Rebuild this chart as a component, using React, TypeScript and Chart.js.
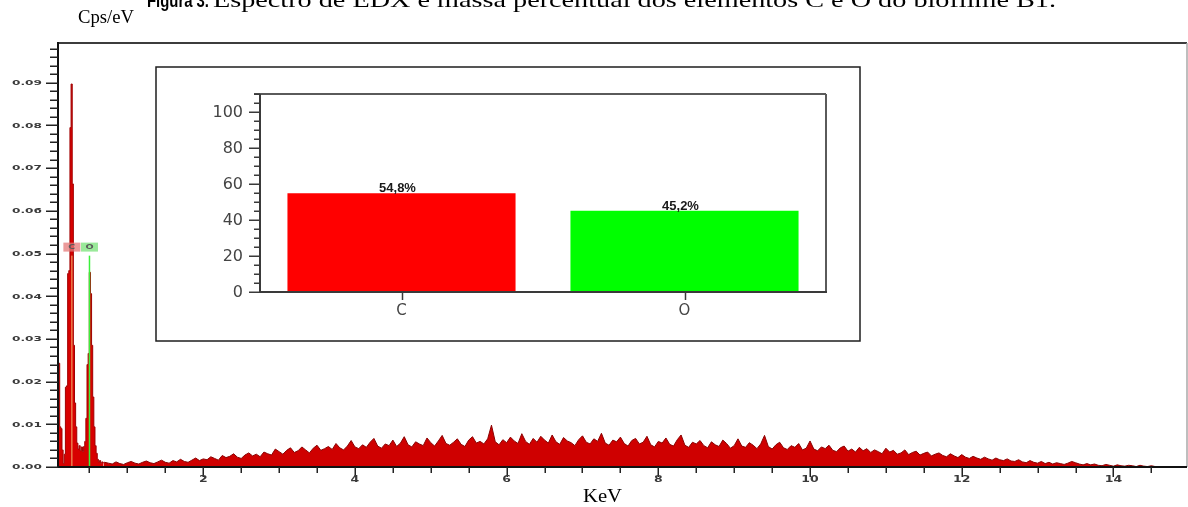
import { useEffect, useRef } from 'react';
import { Chart, registerables } from 'chart.js';

Chart.register(...registerables);

// ---- EDX spectrum (Cps/eV against KeV) ----
// low-energy channels with the C and O peaks
const peakKeV = [
  0.085, 0.1, 0.115, 0.13, 0.145, 0.16, 0.175, 0.19, 0.205, 0.22, 0.235, 0.25, 0.265, 0.28,
  0.295, 0.31, 0.325, 0.34, 0.355, 0.37, 0.385, 0.4, 0.415, 0.43, 0.445, 0.46, 0.475, 0.49,
  0.505, 0.52, 0.535, 0.55, 0.565, 0.58, 0.595, 0.61, 0.625, 0.64, 0.655, 0.67, 0.685,
];
const peakCps = [
  0.0243, 0.0243, 0.0094, 0.009, 0.004, 0.0008, 0.003, 0.0187, 0.019, 0.0453, 0.046, 0.0795, 0.0897, 0.0663,
  0.0285, 0.015, 0.0094, 0.0056, 0.0042, 0.005, 0.0038, 0.0047, 0.0036, 0.0048, 0.006, 0.0114, 0.024, 0.0266,
  0.0456, 0.0406, 0.0285, 0.0164, 0.0094, 0.005, 0.0032, 0.0018, 0.0012, 0.0015, 0.0009, 0.0012, 0.001,
];

// bremsstrahlung background, channels every 0.05 KeV from 0.70 KeV
const bgStartKeV = 0.7;
const bgStepKeV = 0.05;
const bgCps = [
  // 0.70 - 1.65
  0.0011, 0.0009, 0.0007, 0.0012, 0.0008, 0.0006, 0.001, 0.0013, 0.0009, 0.0007, 0.0011, 0.0014, 0.001, 0.0008, 0.0012, 0.0016, 0.0011, 0.0009, 0.0015, 0.0012,
  // 1.70 - 2.65
  0.0018, 0.0013, 0.0011, 0.0016, 0.0021, 0.0015, 0.0019, 0.0017, 0.0024, 0.002, 0.0016, 0.0027, 0.0022, 0.0025, 0.0031, 0.0023, 0.002, 0.0028, 0.0033, 0.0026,
  // 2.70 - 3.65
  0.003, 0.0024, 0.0035, 0.0031, 0.0028, 0.0042, 0.0036, 0.003, 0.0039, 0.0045, 0.0034, 0.0038, 0.0047, 0.004, 0.0033, 0.0044, 0.0051, 0.0039, 0.0043, 0.0048,
  // 3.70 - 4.65
  0.0041, 0.0055, 0.0045, 0.004, 0.0049, 0.0062, 0.0047, 0.0043, 0.0052, 0.0046, 0.0058, 0.0067, 0.0049, 0.0044, 0.0054, 0.005, 0.0063, 0.0048, 0.0056, 0.0071,
  // 4.70 - 5.65
  0.0052, 0.0047, 0.0059, 0.0054, 0.005, 0.0068, 0.0057, 0.0049, 0.0061, 0.0074, 0.0055, 0.0051, 0.0058, 0.0066, 0.0053, 0.0048, 0.0063, 0.0071, 0.0056, 0.006,
  // 5.70 - 6.65
  0.0054, 0.0066, 0.0098, 0.0059, 0.0052, 0.0064, 0.0057, 0.007, 0.0061, 0.0055, 0.0078, 0.006, 0.0053, 0.0067, 0.0058, 0.0072, 0.0063, 0.0056, 0.0075, 0.0059,
  // 6.70 - 7.65
  0.0053, 0.0069, 0.0061, 0.0057, 0.005, 0.0064, 0.0073, 0.0058, 0.0054, 0.0066, 0.006, 0.0079, 0.0056, 0.0051, 0.0063, 0.0059, 0.007, 0.0055, 0.0049, 0.0062,
  // 7.70 - 8.65
  0.0067, 0.0054, 0.0058, 0.0072, 0.0052, 0.0047, 0.006, 0.0056, 0.0068, 0.0053, 0.0049, 0.0064, 0.0075, 0.0051, 0.0046, 0.0058, 0.0054, 0.0062, 0.005, 0.0045,
  // 8.70 - 9.65
  0.0059, 0.0052, 0.0048, 0.0063, 0.0055, 0.0044, 0.005, 0.0066, 0.0049, 0.0046, 0.0057, 0.0051, 0.0043, 0.0054, 0.0074, 0.0048, 0.0042, 0.0052, 0.0058, 0.0045,
  // 9.70 - 10.65
  0.0041, 0.005, 0.0046, 0.0055, 0.004, 0.0044, 0.0061, 0.0042, 0.0038, 0.0047, 0.0043, 0.0051, 0.0039, 0.0036, 0.0045, 0.0049, 0.0037, 0.0042, 0.0035, 0.0046,
  // 10.70 - 11.65
  0.0038, 0.0043, 0.0034, 0.004, 0.0036, 0.0031, 0.0044, 0.0035, 0.0039, 0.003, 0.0033, 0.004, 0.0029, 0.0034, 0.0037, 0.0028, 0.0032, 0.0035, 0.0026, 0.003,
  // 11.70 - 12.65
  0.0033, 0.0027, 0.0024, 0.0031, 0.0026, 0.0022, 0.0029, 0.0023, 0.002, 0.0025, 0.0021, 0.0018, 0.0023, 0.0019, 0.0016, 0.0021, 0.0017, 0.0015, 0.0019, 0.0014,
  // 12.70 - 13.65
  0.0013, 0.0017, 0.0012, 0.001, 0.0015, 0.0011, 0.0009, 0.0013, 0.0008, 0.0011, 0.0007, 0.001, 0.0008, 0.0006, 0.0009, 0.0013, 0.001, 0.0007, 0.0005, 0.0008,
  // 13.70 - 14.60
  0.0005, 0.0007, 0.0004, 0.0003, 0.0006, 0.0004, 0.0002, 0.0005, 0.0003, 0.0002, 0.0004, 0.0003, 0.0001, 0.0004, 0.0002, 0.0001, 0.0003, 0.0001, 0.0,
];

// element markers drawn on the spectrum
const markerNames = ['C', 'O'];
const markerKeV = [0.268, 0.5];
const markerLineTop = 0.0495;
const markerBoxLevel = 0.0515;

// axis ticks of the spectrum
const xTickLabels = ['2', '4', '6', '8', '10', '12', '14'];
const yTickLabels = ['0.00', '0.01', '0.02', '0.03', '0.04', '0.05', '0.06', '0.07', '0.08', '0.09'];
const xMinorStep = 0.5;
const yMinorStep = 0.002;
const xRange = [0.085, 14.97];
const yRange = [0, 0.0993];

// ---- inset: mass percentage of each element ----
const elements = ['C', 'O'];
const massPct = [54.8, 45.2];
const barColors = ['#ff0000', '#00ff00'];
const insetYTickLabels = ['0', '20', '40', '60', '80', '100'];
const insetYMinorStep = 5;
const insetYMax = 110;

const titleBold = 'Figura 3.';
const titleText = 'Espectro de EDX e massa percentual dos elementos C e O do biofilme B1.';
const yAxisTitle = 'Cps/eV';
const xAxisTitle = 'KeV';

const peakSeries = peakKeV.map((x, i) => ({ x, y: peakCps[i] }));
// the background trace starts from the last peak channel so the two fills join
const bgSeries = [
  peakSeries[peakSeries.length - 1],
  ...bgCps.map((y, i) => ({ x: +(bgStartKeV + i * bgStepKeV).toFixed(2), y })),
];

function seg(ctx: CanvasRenderingContext2D, x1: number, y1: number, x2: number, y2: number) {
  ctx.beginPath();
  ctx.moveTo(x1, y1);
  ctx.lineTo(x2, y2);
  ctx.stroke();
}

// text squeezed/stretched horizontally into [x0, x1]
function fitText(ctx: CanvasRenderingContext2D, text: string, x0: number, x1: number, baseline: number) {
  const w = ctx.measureText(text).width;
  ctx.save();
  ctx.translate(x0, baseline);
  ctx.scale((x1 - x0) / w, 1);
  ctx.textAlign = 'left';
  ctx.fillText(text, 0, 0);
  ctx.restore();
}

// text with a fixed horizontal / vertical stretch
function stretchText(ctx: CanvasRenderingContext2D, text: string, x: number, y: number, sx: number, sy: number) {
  ctx.save();
  ctx.translate(x, y);
  ctx.scale(sx, sy);
  ctx.fillText(text, 0, 0);
  ctx.restore();
}

const spectrumDecor = {
  id: 'spectrumDecor',
  afterDatasetsDraw(chart: any) {
    const ctx: CanvasRenderingContext2D = chart.ctx;
    const a = chart.chartArea;
    const xs = chart.scales.x;
    const ys = chart.scales.y;
    ctx.save();
    ctx.lineCap = 'butt';

    // element marker boxes
    markerNames.forEach((name, i) => {
      const cx = xs.getPixelForValue(markerKeV[i]);
      const cy = ys.getPixelForValue(markerBoxLevel);
      ctx.fillStyle = i === 0 ? 'rgba(228,120,120,0.75)' : 'rgba(120,225,120,0.75)';
      ctx.fillRect(cx - 8.5, cy - 4.5, 17, 9);
      ctx.fillStyle = '#5a5a5a';
      ctx.font = 'bold 8px "DejaVu Sans"';
      ctx.textAlign = 'center';
      ctx.textBaseline = 'middle';
      stretchText(ctx, name, cx, cy + 0.5, 1.2, 0.8);
    });

    // frame
    ctx.strokeStyle = '#3c3c3c';
    ctx.lineWidth = 2;
    seg(ctx, a.left, a.top, a.right, a.top);
    ctx.strokeStyle = '#a8a8a8';
    ctx.lineWidth = 1.5;
    seg(ctx, a.right, a.top, a.right, a.bottom);
    ctx.strokeStyle = '#111';
    ctx.lineWidth = 2;
    seg(ctx, a.left, a.top - 1, a.left, a.bottom + 1);
    seg(ctx, a.left - 1, a.bottom, a.right, a.bottom);

    // y ticks
    ctx.lineWidth = 1.5;
    ctx.strokeStyle = '#222';
    for (let i = 0; i * yMinorStep <= ys.max + 1e-9; i++) {
      const py = Math.round(ys.getPixelForValue(i * yMinorStep)) + 0.25;
      const len = i % 5 === 0 ? 12 : 8;
      seg(ctx, a.left - len, py, a.left, py);
    }
    // x ticks
    const majorX = xTickLabels.map(parseFloat);
    for (let i = 1; i * xMinorStep <= xs.max; i++) {
      const v = i * xMinorStep;
      const px = Math.round(xs.getPixelForValue(v)) + 0.25;
      const len = majorX.includes(v) ? 10 : 6;
      seg(ctx, px, a.bottom, px, a.bottom + len);
    }

    // tick labels
    ctx.fillStyle = '#3a3a3a';
    ctx.font = 'bold 9px "DejaVu Sans"';
    ctx.textAlign = 'right';
    ctx.textBaseline = 'middle';
    yTickLabels.forEach((lbl) => {
      stretchText(ctx, lbl, a.left - 16, ys.getPixelForValue(parseFloat(lbl)) + 0.5, 1.35, 0.8);
    });
    ctx.textAlign = 'center';
    ctx.font = 'bold 10px "DejaVu Sans"';
    xTickLabels.forEach((lbl) => {
      stretchText(ctx, lbl, xs.getPixelForValue(parseFloat(lbl)), a.bottom + 13, 1.25, 0.8);
    });

    // axis titles and caption
    ctx.fillStyle = '#000';
    ctx.textBaseline = 'alphabetic';
    ctx.font = '19px "Liberation Serif"';
    fitText(ctx, yAxisTitle, 78, 134, 23);
    fitText(ctx, xAxisTitle, 583, 622, 502);
    ctx.font = 'bold 19px "Liberation Sans"';
    fitText(ctx, titleBold, 147, 209, 7);
    ctx.font = '21px "Liberation Serif"';
    fitText(ctx, titleText, 213, 1056, 7);
    ctx.restore();
  },
};

const insetDecor = {
  id: 'insetDecor',
  afterDatasetsDraw(chart: any) {
    const ctx: CanvasRenderingContext2D = chart.ctx;
    const a = chart.chartArea;
    const xs = chart.scales.x;
    const ys = chart.scales.y;
    const W = chart.width;
    const H = chart.height;
    ctx.save();

    // outer frame of the inset
    ctx.strokeStyle = '#1e1e1e';
    ctx.lineWidth = 1.5;
    ctx.strokeRect(1, 1, W - 2, H - 2);

    // plot box
    ctx.strokeStyle = '#5a5a5a';
    ctx.lineWidth = 2;
    seg(ctx, a.left - 6, a.top, a.right, a.top);
    seg(ctx, a.right, a.top, a.right, a.bottom);
    ctx.strokeStyle = '#3a3a3a';
    seg(ctx, a.left, a.top, a.left, a.bottom + 1);
    seg(ctx, a.left - 1, a.bottom, a.right + 1, a.bottom);

    // y ticks
    ctx.lineWidth = 1.5;
    for (let i = 0; i * insetYMinorStep <= ys.max; i++) {
      const v = i * insetYMinorStep;
      const py = Math.round(ys.getPixelForValue(v)) + 0.25;
      const len = v % 20 === 0 ? 11 : 6;
      seg(ctx, a.left - len, py, a.left, py);
    }
    // category ticks
    elements.forEach((_, i) => {
      const px = Math.round(xs.getPixelForValue(i)) + 0.5;
      seg(ctx, px, a.bottom, px, a.bottom + 8);
    });

    // tick labels
    ctx.fillStyle = '#444';
    ctx.font = '16px "DejaVu Sans"';
    ctx.textAlign = 'right';
    ctx.textBaseline = 'middle';
    insetYTickLabels.forEach((lbl) => {
      ctx.fillText(lbl, a.left - 17, ys.getPixelForValue(parseFloat(lbl)) + 1);
    });
    ctx.textAlign = 'center';
    ctx.font = '15px "DejaVu Sans"';
    elements.forEach((lbl, i) => {
      ctx.fillText(lbl, xs.getPixelForValue(i), a.bottom + 19);
    });

    // value labels over the bars
    ctx.fillStyle = '#1a1a1a';
    ctx.font = 'bold 13px "Liberation Sans"';
    ctx.textBaseline = 'alphabetic';
    massPct.forEach((v, i) => {
      const lbl = v.toFixed(1).replace('.', ',') + '%';
      ctx.fillText(lbl, xs.getPixelForValue(i) - 4, ys.getPixelForValue(v) - 1);
    });
    ctx.restore();
  },
};

export default function App() {
  const mainRef = useRef<HTMLCanvasElement>(null);
  const insetRef = useRef<HTMLCanvasElement>(null);

  useEffect(() => {
    const main = new Chart(mainRef.current!, {
      type: 'line',
      data: {
        datasets: [
          {
            data: peakSeries,
            fill: 'origin',
            stepped: 'middle',
            borderColor: '#a00000',
            backgroundColor: '#d80000',
            borderWidth: 1,
            pointRadius: 0,
            order: 2,
          },
          {
            data: bgSeries,
            fill: 'origin',
            borderColor: '#8a0000',
            backgroundColor: '#cf0000',
            borderWidth: 1,
            pointRadius: 0,
            tension: 0,
            order: 3,
          },
          {
            data: [
              { x: markerKeV[0], y: 0 },
              { x: markerKeV[0], y: markerLineTop },
            ],
            borderColor: '#f3b870',
            borderWidth: 1,
            pointRadius: 0,
            fill: false,
            order: 1,
          },
          {
            data: [
              { x: markerKeV[1], y: 0 },
              { x: markerKeV[1], y: markerLineTop },
            ],
            borderColor: '#3cf03c',
            borderWidth: 1.5,
            pointRadius: 0,
            fill: false,
            order: 1,
          },
        ],
      },
      options: {
        responsive: false,
        animation: false,
        events: [],
        layout: { padding: { top: 43, right: 1, left: 0, bottom: 0 } },
        plugins: { legend: { display: false }, tooltip: { enabled: false } },
        scales: {
          x: {
            type: 'linear',
            min: xRange[0],
            max: xRange[1],
            ticks: { display: false },
            grid: { display: false },
            border: { display: false },
            afterFit: (s: any) => {
              s.height = 40;
            },
          },
          y: {
            type: 'linear',
            min: yRange[0],
            max: yRange[1],
            ticks: { display: false },
            grid: { display: false },
            border: { display: false },
            afterFit: (s: any) => {
              s.width = 58;
            },
          },
        },
      },
      plugins: [spectrumDecor],
    } as any);

    const inset = new Chart(insetRef.current!, {
      type: 'bar',
      data: {
        labels: elements,
        datasets: [
          {
            data: massPct,
            backgroundColor: barColors,
            borderWidth: 0,
            barPercentage: 0.806,
            categoryPercentage: 1,
          },
        ],
      },
      options: {
        responsive: false,
        animation: false,
        events: [],
        layout: { padding: { top: 28, right: 35, left: 0, bottom: 0 } },
        plugins: { legend: { display: false }, tooltip: { enabled: false } },
        scales: {
          x: {
            ticks: { display: false },
            grid: { display: false },
            border: { display: false },
            afterFit: (s: any) => {
              s.height = 50;
            },
          },
          y: {
            min: 0,
            max: insetYMax,
            ticks: { display: false },
            grid: { display: false },
            border: { display: false },
            afterFit: (s: any) => {
              s.width = 105;
            },
          },
        },
      },
      plugins: [insetDecor],
    } as any);

    return () => {
      main.destroy();
      inset.destroy();
    };
  }, []);

  return (
    <div
      style={{
        position: 'absolute',
        left: 0,
        top: 0,
        width: 1188,
        height: 507,
        background: '#fff',
        overflow: 'hidden',
      }}
    >
      <canvas ref={mainRef} width={1188} height={507} style={{ position: 'absolute', left: 0, top: 0 }} />
      <canvas
        ref={insetRef}
        width={706}
        height={276}
        style={{ position: 'absolute', left: 155, top: 66, background: '#fff' }}
      />
    </div>
  );
}
